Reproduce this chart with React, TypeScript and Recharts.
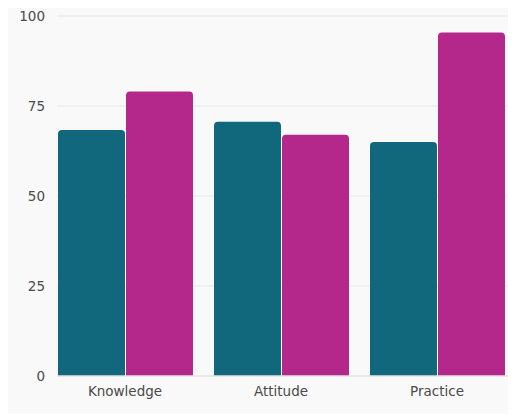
import { BarChart, Bar, CartesianGrid, XAxis, YAxis } from "recharts";

const CATEGORIES = ["Knowledge", "Attitude", "Practice"];
const SERIES_A = [68.3, 70.6, 65];
const SERIES_B = [79, 67, 95.4];
const Y_TICKS = [0, 25, 50, 75, 100];

const TEAL = "#11677b";
const MAGENTA = "#b4288c";

const data = CATEGORIES.map((name, i) => ({ name, a: SERIES_A[i], b: SERIES_B[i] }));

const tickStyle = { fontSize: 13.5, fill: "#4a4a4a", fontFamily: "DejaVu Sans, sans-serif" };

export default function App() {
  return (
    <div style={{ width: 508, height: 406, background: "#f9f9f9" }}>
      <BarChart
        width={508}
        height={406}
        data={data}
        margin={{ top: 8, right: 1, left: 0, bottom: 8 }}
        barCategoryGap={11}
        barGap={1}
      >
        <CartesianGrid vertical={false} stroke="#ececec" strokeWidth={1.5} />
        <XAxis
          dataKey="name"
          padding={{ left: -10, right: 0 }}
          tick={tickStyle}
          tickLine={false}
          axisLine={{ stroke: "#e4e4e4", strokeWidth: 1.5 }}
          tickMargin={4}
        />
        <YAxis
          width={49}
          domain={[0, 100]}
          ticks={Y_TICKS}
          tick={tickStyle}
          tickLine={false}
          axisLine={false}
          tickMargin={6}
        />
        <Bar dataKey="a" fill={TEAL} radius={[4, 4, 0, 0]} isAnimationActive={false} />
        <Bar dataKey="b" fill={MAGENTA} radius={[4, 4, 0, 0]} isAnimationActive={false} />
      </BarChart>
    </div>
  );
}
